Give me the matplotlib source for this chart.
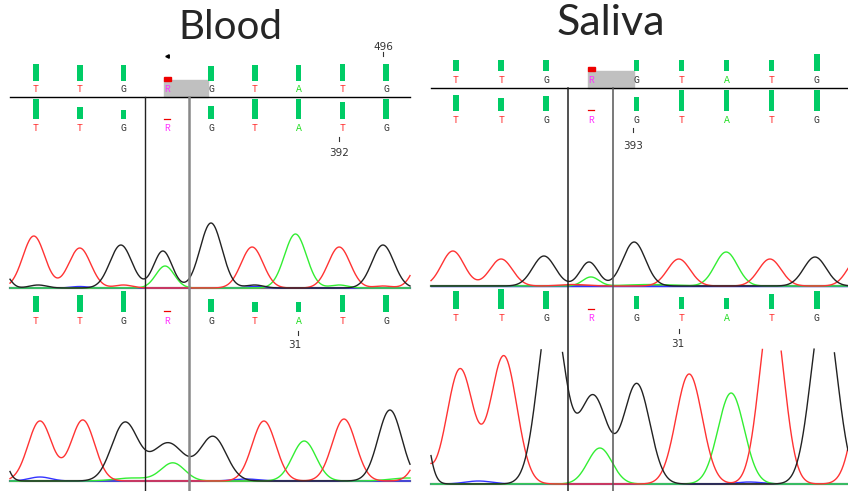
import matplotlib
matplotlib.use("Agg")
import matplotlib.pyplot as plt
from matplotlib.patches import Rectangle
import numpy as np

bases = ["T", "T", "G", "R", "G", "T", "A", "T", "G"]

# quality bar heights (px) for each base row, 0 = ambiguous call
blood_q_top = [17, 16, 16, 0, 15, 16, 16, 17, 17]
blood_q_ref = [20, 12, 9, 0, 13, 20, 20, 17, 20]
blood_q_mid = [16, 17, 21, 0, 13, 10, 10, 17, 17]
saliva_q_top = [11, 11, 11, 0, 11, 11, 11, 11, 17]
saliva_q_ref = [16, 13, 15, 0, 14, 21, 21, 21, 21]
saliva_q_mid = [18, 20, 18, 0, 13, 12, 11, 15, 18]

# peaks: (centre in base units, height, width in base units)
blood_mid_peaks = {
    "red": [(-0.05, 52, .25), (1.0, 40, .25), (4.94, 41, .25), (6.93, 41, .25),
            (2.0, 3, .2), (7.93, 2, .2), (8.95, 45, .25)],
    "black": [(-0.75, 15, .15), (1.94, 43, .25), (2.9, 37, .21), (4.0, 65, .25),
              (7.93, 43, .25), (0.05, 3, .2), (5.0, 3, .2)],
    "green": [(2.95, 22, .21), (5.93, 54, .25), (6.93, 3, .2)],
    "blue": [(1.0, 1.5, .2), (5.0, 1.5, .2)],
}
blood_bot_peaks = {
    "red": [(0.09, 60, .27), (1.07, 61, .27), (5.21, 60, .27), (7.04, 62, .27), (9.05, 60, .27)],
    "black": [(-0.94, 60, .18), (2.03, 58, .30), (3.02, 38, .37), (4.05, 44, .30), (8.09, 71, .27)],
    "green": [(3.13, 18, .27), (6.13, 40, .27), (2.2, 3, .4), (8.5, 3, .4)],
    "blue": [(0.09, 4, .25), (4.8, 2, .3)],
}
saliva_mid_peaks = {
    "red": [(-0.07, 35, .25), (1.0, 27, .25), (4.94, 27, .25), (6.96, 27, .25), (8.95, 30, .25),
            (2.6, 1.5, .3)],
    "black": [(1.95, 30, .25), (2.95, 24, .2), (3.95, 44, .25), (7.96, 29, .25)],
    "green": [(2.99, 9, .18), (5.99, 34, .25), (4.3, 1.5, .5)],
    "blue": [],
}
saliva_bot_peaks = {
    "red": [(-0.91, 40, .22), (0.09, 115, .29), (1.06, 128, .29), (5.17, 110, .29),
            (7.0, 180, .27), (9.18, 150, .29)],
    "black": [(-0.84, 100, .18), (2.11, 180, .29), (3.04, 88, .31), (4.01, 100, .29),
              (8.16, 180, .29)],
    "green": [(3.19, 36, .27), (6.1, 91, .29)],
    "blue": [(0.5, 3, .3), (6.5, 2, .3)],
}

base_col = {"T": "#ff2a2a", "G": "#333333", "A": "#22dd22", "R": "#ff33ff"}
trace_col = {"red": "#ff3333", "black": "#222222", "green": "#33ee33", "blue": "#3333ff"}
bar_col = "#00cc66"


def trace(ax, peaks, x0, step, xa, xb, base_y, clip=None):
    xs = np.linspace(xa, xb, 800)
    u = (xs - x0) / step
    ax.plot([xa, xb], [base_y, base_y], color="#777777", lw=1.6, zorder=2)
    for ch in ["blue", "green", "red", "black"]:
        y = np.zeros_like(u)
        for c, h, w in peaks[ch]:
            y += h * np.exp(-(u - c) ** 2 / (2 * w ** 2))
        if clip is not None:
            y = np.where(y > clip, np.nan, y)
        ax.plot(xs, base_y - y, color=trace_col[ch], lw=1.0, zorder=3)


def base_row(ax, x0, step, q, bar_bottom, text_y, dash_y=None, square=None):
    xs = x0 + step * np.arange(len(bases))
    for x, b, h in zip(xs, bases, q):
        if h > 0:
            ax.bar(x, -h, bottom=bar_bottom, width=5.5, color=bar_col, zorder=3)
        ax.text(x, text_y, b, color=base_col[b], fontsize=7, family="Liberation Mono",
                ha="center", va="center", zorder=4)
        if b == "R":
            if square is not None:
                ax.add_patch(Rectangle((x - 3, square), 6.5, 3.5, color="#ee0000", zorder=4))
            if dash_y is not None:
                ax.plot([x - 3, x + 3], [dash_y, dash_y], color="#ee0000", lw=0.9, zorder=4)


fig = plt.figure(figsize=(8.48, 4.91), dpi=100)
ax = fig.add_axes([0, 0, 1, 1])
ax.set_xlim(0, 848)
ax.set_ylim(491, 0)
ax.axis("off")

# ---- Blood ----
bx0, bstep = 36, 43.75
ax.text(230, 27, "Blood", fontsize=29, family="Lato", color="#262626",
        ha="center", va="center")
ax.add_patch(Rectangle((164, 80), 44, 17, color="#c0c0c0", zorder=2))
base_row(ax, bx0, bstep, blood_q_top, 81, 89, square=77)
ax.plot([10, 410], [97, 97], color="black", lw=1.0, zorder=3)
base_row(ax, bx0, bstep, blood_q_ref, 119, 128, dash_y=119)
trace(ax, blood_mid_peaks, bx0, bstep, 10, 410, 288)
base_row(ax, bx0, bstep, blood_q_mid, 312, 321, dash_y=311)
trace(ax, blood_bot_peaks, bx0, bstep, 10, 410, 481)
ax.plot(167, 56, marker="<", ms=2.5, color="black")
ax.plot([383, 383], [52, 56], color="#333333", lw=0.8)
ax.text(383, 47, "496", fontsize=7.5, color="#333333", ha="center", va="center")
ax.plot([339, 339], [137, 141], color="#333333", lw=0.8)
ax.text(339, 153, "392", fontsize=7.5, color="#333333", ha="center", va="center")
ax.plot([298, 298], [331, 335], color="#333333", lw=0.8)
ax.text(295, 345, "31", fontsize=7.5, color="#333333", ha="center", va="center")
ax.plot([145, 145], [97, 491], color="#222222", lw=1.0, zorder=5)
ax.plot([189, 189], [97, 491], color="#888888", lw=1.8, zorder=5)

# ---- Saliva ----
sx0, sstep = 456, 45.1
ax.text(611, 23, "Saliva", fontsize=31, family="Lato", color="#262626", ha="center", va="center")
ax.add_patch(Rectangle((588, 71), 46, 17, color="#c0c0c0", zorder=2))
base_row(ax, sx0, sstep, saliva_q_top, 71, 80, square=67)
ax.plot([431, 848], [88, 88], color="black", lw=1.0, zorder=3)
base_row(ax, sx0, sstep, saliva_q_ref, 111, 120, dash_y=110)
trace(ax, saliva_mid_peaks, sx0, sstep, 431, 848, 286)
base_row(ax, sx0, sstep, saliva_q_mid, 309, 318, dash_y=309)
trace(ax, saliva_bot_peaks, sx0, sstep, 431, 848, 484, clip=135)
ax.plot([633, 633], [128, 132], color="#333333", lw=0.8)
ax.text(633, 146, "393", fontsize=7.5, color="#333333", ha="center", va="center")
ax.plot([679, 679], [329, 333], color="#333333", lw=0.8)
ax.text(678, 344, "31", fontsize=7.5, color="#333333", ha="center", va="center")
ax.plot([568, 568], [88, 491], color="#222222", lw=1.1, zorder=5)
ax.plot([613, 613], [88, 491], color="#555555", lw=1.1, zorder=5)

fig.savefig("out.png", dpi=100)
